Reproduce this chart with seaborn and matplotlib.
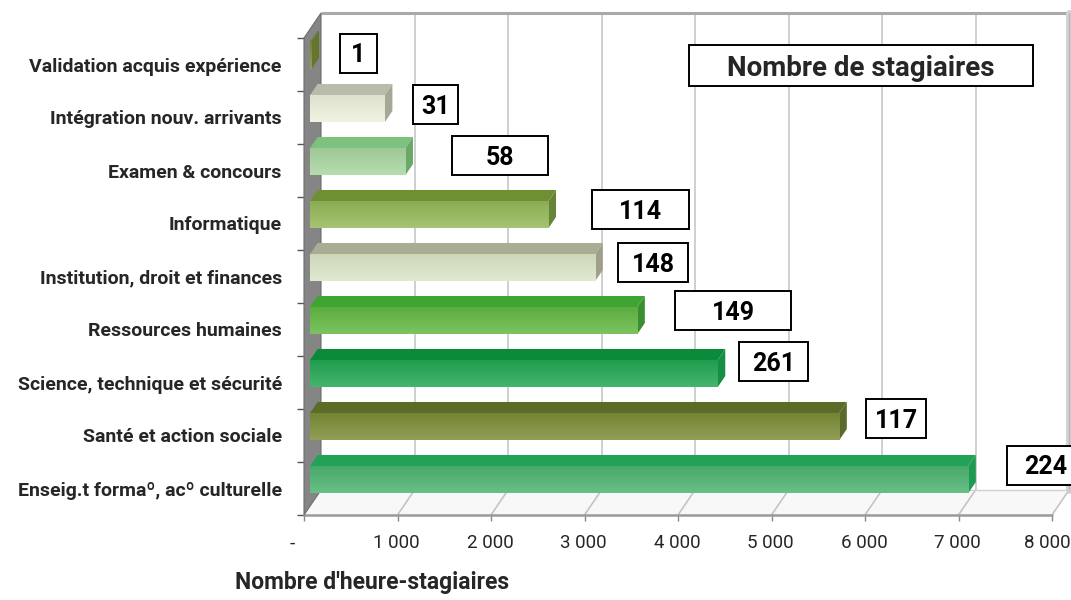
import numpy as np
import pandas as pd
import matplotlib
matplotlib.use("Agg")
import matplotlib.pyplot as plt
from matplotlib.patches import Polygon, Rectangle
from matplotlib.transforms import IdentityTransform, ScaledTranslation
from matplotlib.colors import to_rgb
import seaborn as sns

# ---- data -------------------------------------------------------------
domaines = [
    "Validation acquis expérience",
    "Intégration nouv. arrivants",
    "Examen & concours",
    "Informatique",
    "Institution, droit et finances",
    "Ressources humaines",
    "Science, technique et sécurité",
    "Santé et action sociale",
    "Enseig.t formaº, acº culturelle",
]
heures = [15, 800, 1020, 2550, 3050, 3500, 4360, 5660, 7040]
stagiaires = [1, 31, 58, 114, 148, 149, 261, 117, 224]
x_ticks = [0, 1000, 2000, 3000, 4000, 5000, 6000, 7000, 8000]
x_tick_labels = ["-", "1 000", "2 000", "3 000", "4 000", "5 000", "6 000", "7 000", "8 000"]

# ---- styling ----------------------------------------------------------
face_colors = ["#7d8a3c", "#eef1dd", "#a9d6a0", "#95b858", "#dbe6c6",
               "#62b843", "#22a752", "#7b8d36", "#4cb470"]
top_colors = ["#6b7a30", "#b9bbab", "#7cc27e", "#6f8f35", "#aaad93",
              "#3ea432", "#0b8a3b", "#5b6b28", "#21a257"]
side_colors = ["#66752e", "#a6a893", "#6aa86a", "#66853a", "#9ea089",
               "#3a9030", "#168f45", "#5a6a2a", "#1e9a52"]

# value boxes: centre offset from the bar end (px right, px up) and width (px)
label_dx = [47, 51, 95, 92, 58, 96, 56, 57, 77]
label_dy = [11.5, 13.5, 15, 14, 14, 19, 21, 17, 23.5]
label_w = [37, 45, 96, 97, 70, 116, 69, 60, 76]
label_h = 39

W, H = 1071, 600
DEPTH_PX = (17, 25)          # offset of the back wall, in pixels
BAR_FRONT, BAR_BACK = 0.35, 0.80

sns.set_theme(style="white")
plt.rcParams["font.family"] = ["Roboto", "DejaVu Sans"]

fig = plt.figure(figsize=(W / 100, H / 100), dpi=100)
fig.patch.set_facecolor("white")
ax_l, ax_r, ax_t, ax_b = 304, 1052, 38, 515
ax = fig.add_axes([ax_l / W, (H - ax_b) / H, (ax_r - ax_l) / W, (ax_b - ax_t) / H])

df = pd.DataFrame({"domaine": domaines, "heures": heures})
sns.barplot(data=df, x="heures", y="domaine", hue="domaine", order=domaines,
            hue_order=domaines, palette=face_colors, orient="h", width=0.51,
            legend=False, saturation=1, ax=ax)

xmax = x_ticks[-1]
n = len(domaines)
ax.set_xlim(0, xmax)
ax.set_ylim(n - 0.5, -0.5)
dxd = DEPTH_PX[0] * xmax / (ax_r - ax_l)
dyd = DEPTH_PX[1] * n / (ax_b - ax_t)


def back(x, y, f=1.0):
    return (x + f * dxd, y - f * dyd)


y_top, y_bot = -0.5, n - 0.5

# back wall
ax.add_patch(Polygon([back(0, y_top), back(xmax, y_top), back(xmax, y_bot), back(0, y_bot)],
                     closed=True, fc="white", ec="none", zorder=0.5, clip_on=False))
for xv in x_ticks[1:-1]:
    ax.plot(*zip(back(xv, y_top), back(xv, y_bot)), color="#cbcbcb", lw=1.3,
            zorder=0.6, clip_on=False)
ax.plot(*zip(back(0, y_top), back(xmax, y_top)), color="#a9a9a9", lw=2.2,
        zorder=0.7, clip_on=False, solid_capstyle="butt")
ax.plot(*zip(back(xmax, y_top), back(xmax, y_bot)), color="#d3d3d3", lw=5,
        zorder=0.7, clip_on=False)
ax.plot(*zip(back(xmax, y_top), back(xmax, y_bot)), color="#b5b5b5", lw=1,
        zorder=0.71, clip_on=False)

# floor
ax.add_patch(Polygon([(0, y_bot), (xmax, y_bot), back(xmax, y_bot), back(0, y_bot)],
                     closed=True, fc="#f8f8f8", ec="none", zorder=0.8, clip_on=False))
for xv in x_ticks[1:]:
    ax.plot(*zip((xv, y_bot), back(xv, y_bot)), color="#c4c4c4", lw=1.2,
            zorder=0.85, clip_on=False)
ax.plot(*zip(back(0, y_bot), back(xmax, y_bot)), color="#d0d0d0", lw=1,
        zorder=0.85, clip_on=False)
ax.plot([0, xmax], [y_bot, y_bot], color="#9a9a9a", lw=1.8, zorder=0.9, clip_on=False)

# left wall
ax.add_patch(Polygon([(0, y_top), back(0, y_top), back(0, y_bot), (0, y_bot)],
                     closed=True, fc="#858585", ec="#6d6d6d", lw=0.8, zorder=0.95,
                     clip_on=False))

# bars: push the front face into the depth and add top / side faces
bars = [p for p in ax.patches if isinstance(p, Rectangle)]
depth = BAR_BACK - BAR_FRONT
for p in bars:
    i = int(round(p.get_y() + p.get_height() / 2))
    p.set_x(p.get_x() + BAR_FRONT * dxd)
    p.set_y(p.get_y() - BAR_FRONT * dyd)
    p.set_edgecolor("none")
    p.set_zorder(3)
    x0, x1 = p.get_x(), p.get_x() + p.get_width()
    yt, yb = p.get_y(), p.get_y() + p.get_height()
    ax.add_patch(Polygon([(x0, yt), (x1, yt), back(x1, yt, depth), back(x0, yt, depth)],
                         closed=True, fc=top_colors[i], ec="none", zorder=3, clip_on=False))
    ax.add_patch(Polygon([(x1, yt), back(x1, yt, depth), back(x1, yb, depth), (x1, yb)],
                         closed=True, fc=side_colors[i], ec="none", zorder=3, clip_on=False))
    c = np.array(to_rgb(face_colors[i]))
    t = np.linspace(0, 1, 64)[:, None, None]
    grad = (1 - t) * (c * 0.93) + t * (c + (1 - c) * 0.16)
    im = ax.imshow(grad, extent=(x0, x1, yb, yt), aspect="auto", zorder=3.1,
                   interpolation="bilinear")
    im.set_clip_path(p)

ax.set_xlim(0, xmax)
ax.set_ylim(n - 0.5, -0.5)

# axes decoration
for s in ax.spines.values():
    s.set_visible(False)
ax.set_xlabel("")
ax.set_ylabel("")
ax.set_xticks(x_ticks)
ax.set_xticklabels(x_tick_labels, fontsize=13.5)
ax.tick_params(axis="x", length=4, width=1, color="#8a8a8a", pad=10, bottom=True)
ax.set_yticks(range(n))
ax.set_yticklabels(domaines, fontsize=14, fontweight="bold")
ax.set_yticks(np.arange(-0.5, n, 1.0), minor=True)
ax.tick_params(axis="y", which="major", length=0, pad=16, left=True)
ax.tick_params(axis="y", which="minor", length=5, width=1, color="#555555", left=True)
xlabels = ax.get_xticklabels()
for k, lbl in enumerate(xlabels):
    shift = -12 if k == 0 else (-5 if k == len(xlabels) - 1 else -1)
    lbl.set_transform(lbl.get_transform() + ScaledTranslation(shift / 100, 0, fig.dpi_scale_trans))

# value boxes (number of trainees)
for i, v in enumerate(stagiaires):
    ex, ey = ax.transData.transform((heures[i] + BAR_FRONT * dxd, i))
    cx, cy = ex + label_dx[i], ey + label_dy[i]
    fig.add_artist(Rectangle((cx - label_w[i] / 2, cy - label_h / 2), label_w[i], label_h,
                             transform=IdentityTransform(), fc="white", ec="black",
                             lw=1.4, zorder=6))
    fig.text(cx, cy, str(v), transform=IdentityTransform(), ha="center",
             va="center_baseline", fontsize=18, fontweight="bold", color="black", zorder=7)

# series box
bx0, by0, bw, bh = 689, 45, 344, 41
fig.add_artist(Rectangle((bx0 / W, 1 - (by0 + bh) / H), bw / W, bh / H,
                         transform=fig.transFigure, fc="white", ec="black", lw=1.4, zorder=6))
fig.text((bx0 + bw / 2) / W, 1 - (by0 + bh / 2) / H, "Nombre de stagiaires",
         ha="center", va="center_baseline", fontsize=20, fontweight="bold", zorder=7)

fig.text(372 / W, 1 - 582 / H, "Nombre d'heure-stagiaires", ha="center", va="center",
         fontsize=16.5, fontweight="bold")

fig.savefig("out.png", dpi=100)
